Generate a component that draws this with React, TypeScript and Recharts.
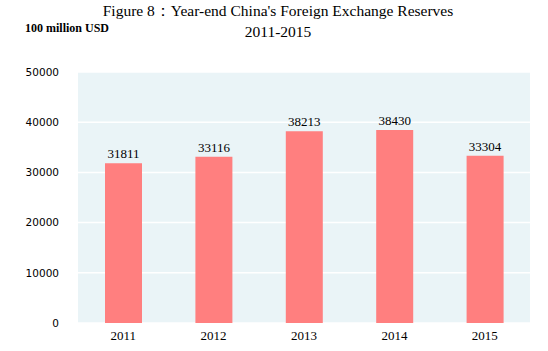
import React from 'react';
import { BarChart, Bar, XAxis, YAxis, CartesianGrid, LabelList } from 'recharts';

const years = ['2011', '2012', '2013', '2014', '2015'];
const reserves = [31811, 33116, 38213, 38430, 33304];
const yTicks = [0, 10000, 20000, 30000, 40000, 50000];

const data = years.map((year, i) => ({ year, value: reserves[i] }));

const serif = '"Liberation Serif", "Times New Roman", serif';

export default function App() {
  return (
    <div style={{ position: 'absolute', left: 0, top: 0, width: 548, height: 351, background: '#fff' }}>
      <div style={{ position: 'absolute', left: 0, width: 548, top: 0, textAlign: 'center', fontFamily: serif, fontSize: 15.5, lineHeight: '21px', color: '#000' }}>
        <div style={{ paddingLeft: 8 }}>Figure 8：Year-end China's Foreign Exchange Reserves</div>
        <div style={{ paddingLeft: 8 }}>2011-2015</div>
      </div>
      <div style={{ position: 'absolute', left: 25, top: 21, fontFamily: serif, fontSize: 12, fontWeight: 'bold', color: '#000' }}>
        100 million USD
      </div>
      <BarChart width={548} height={351} data={data} margin={{ top: 72, right: 18, left: 18, bottom: 0 }}>
        <CartesianGrid vertical={false} stroke="#ffffff" strokeWidth={1.5} fill="#EAF4F7" />
        <XAxis
          dataKey="year"
          height={28}
          axisLine={false}
          tickLine={false}
          tick={{ fontFamily: serif, fontSize: 13, fill: '#000' }}
        />
        <YAxis
          width={60}
          domain={[0, 50000]}
          ticks={yTicks}
          axisLine={false}
          tickLine={false}
          tickMargin={13}
          tick={{ fontFamily: '"DejaVu Sans", sans-serif', fontSize: 10.5, fill: '#000' }}
        />
        <Bar dataKey="value" fill="#FF7F7F" barSize={37} isAnimationActive={false}>
          <LabelList dataKey="value" position="top" offset={5} style={{ fontFamily: serif, fontSize: 13, fill: '#000' }} />
        </Bar>
      </BarChart>
    </div>
  );
}
